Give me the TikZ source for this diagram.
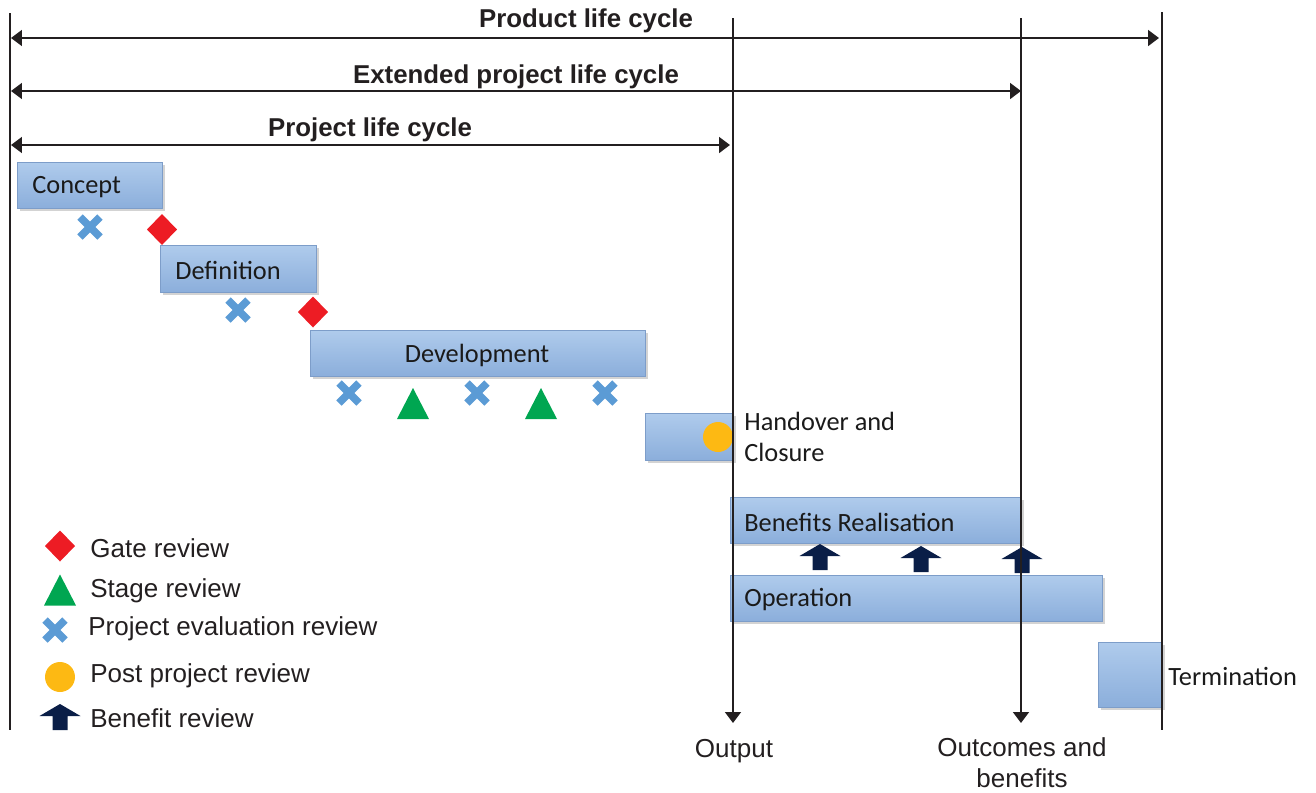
\documentclass[tikz,border=0pt]{standalone}
\usepackage{fontspec}
\setmainfont{Liberation Sans}
\newfontfamily\boxfont{Carlito}
\usetikzlibrary{arrows.meta,shadows}
\newlength\px \setlength\px{0.02cm}
\definecolor{boxtop}{HTML}{AFCBEC}
\definecolor{boxbot}{HTML}{8BAEDB}
\definecolor{boxline}{HTML}{7D9DC9}
\definecolor{gatec}{HTML}{ED1C24}
\definecolor{stagec}{HTML}{00A651}
\definecolor{evalc}{HTML}{5B9BD5}
\definecolor{postc}{HTML}{FDB913}
\definecolor{benefc}{HTML}{0A1E47}
\definecolor{txt}{HTML}{231F20}
\definecolor{btxt}{HTML}{1A1A1A}
\tikzset{
  stagebox/.style={draw=boxline, line width=0.4pt, top color=boxtop, bottom color=boxbot,
    anchor=north west, inner sep=0pt,
    drop shadow={shadow xshift=1.4pt, shadow yshift=-1.4pt, opacity=0.35}},
  boxtxt/.style={font=\boxfont\fontsize{15pt}{17.6pt}\selectfont, text=btxt, inner sep=0pt, yshift=-2*\px},
  lbl/.style={font=\fontsize{14.8pt}{17.6pt}\selectfont, text=txt, inner sep=0pt, yshift=-2*\px},
  ttl/.style={font=\bfseries\fontsize{14.7pt}{17pt}\selectfont, text=txt, inner sep=0pt, yshift=-3*\px},
  vline/.style={line width=0.9pt, draw=txt},
  span/.style={line width=1.1pt, draw=txt, {Triangle[length=0.22cm,width=0.32cm]}-{Triangle[length=0.22cm,width=0.32cm]}},
  downarr/.style={line width=0.9pt, draw=txt, -{Triangle[length=0.22cm,width=0.32cm]}},
  gatemark/.pic={\fill[gatec] (0,-15.5)--(15,0)--(0,15.5)--(-15,0)--cycle;},
  stagemark/.pic={\fill[stagec] (0,-15.5)--(16,15.5)--(-16,15.5)--cycle;},
  evalmark/.pic={\draw[evalc, line width=7.5*\px] (-10,-10)--(10,10) (-10,10)--(10,-10);},
  postmark/.pic={\fill[postc] (0,0) circle (15);},
  benmark/.pic={\fill[benefc] (0,-13)--(20.5,-1)--(7.5,-1)--(7.5,13)--(-7.5,13)--(-7.5,-1)--(-20.5,-1)--cycle;},
}
\begin{document}
\begin{tikzpicture}[x=0.02cm, y=-0.02cm]
\useasboundingbox (0,0) rectangle (1316,792);

% boxes
\node[stagebox, minimum width=145*\px, minimum height=46*\px] (concept) at (17,162) {};
\node[stagebox, minimum width=156*\px, minimum height=47*\px] (definition) at (160,245) {};
\node[stagebox, minimum width=335*\px, minimum height=46*\px] (development) at (310,330) {};
\node[stagebox, minimum width=88*\px, minimum height=47*\px] (handover) at (645,413) {};
\node[stagebox, minimum width=291*\px, minimum height=46*\px] (benefits) at (730,497) {};
\node[stagebox, minimum width=372*\px, minimum height=46*\px] (operation) at (730,575) {};
\node[stagebox, minimum width=64*\px, minimum height=65*\px] (termination) at (1098,642) {};

% box texts
\node[boxtxt, anchor=west] (concept-t) at (32,185) {Concept};
\node[boxtxt, anchor=west] (definition-t) at (175,268) {Definition};
\node[boxtxt] (development-t) at (477,353) {Development};
\node[boxtxt, anchor=west, align=left] (handover-t) at (744,434.5) {Handover and\\Closure};
\node[boxtxt, anchor=west] (benefits-t) at (744,520) {Benefits Realisation};
\node[boxtxt, anchor=west] (operation-t) at (744,598) {Operation};
\node[boxtxt, anchor=west] (termination-t) at (1168,674) {Termination};

% review markers
\pic at (90,227) {evalmark};
\pic at (162,229.5) {gatemark};
\pic at (238,310) {evalmark};
\pic at (313,312) {gatemark};
\pic at (349,393) {evalmark};
\pic at (413,403.5) {stagemark};
\pic at (477,393) {evalmark};
\pic at (541,403.5) {stagemark};
\pic at (605,393) {evalmark};
\pic at (718,437) {postmark};
\pic at (820,557) {benmark};
\pic at (921,559) {benmark};
\pic at (1022,560) {benmark};

% vertical lines
\coordinate (left-top) at (10,13);
\coordinate (left-bot) at (10,730);
\coordinate (out-top) at (733,18);
\coordinate (out-bot) at (733,723);
\coordinate (oc-top) at (1021,18);
\coordinate (oc-bot) at (1021,723);
\coordinate (right-top) at (1162,12);
\coordinate (right-bot) at (1162,730);
\draw[vline] (left-top) -- (left-bot);
\draw[vline] (right-top) -- (right-bot);
\draw[downarr] (out-top) -- (out-bot);
\draw[downarr] (oc-top) -- (oc-bot);

% spans
\coordinate (plc-l) at (11,38);
\coordinate (plc-r) at (1159,38);
\coordinate (eplc-l) at (11,91);
\coordinate (eplc-r) at (1021,91);
\coordinate (pjlc-l) at (11,145);
\coordinate (pjlc-r) at (730,145);
\draw[span] (plc-l) -- (plc-r);
\draw[span] (eplc-l) -- (eplc-r);
\draw[span] (pjlc-l) -- (pjlc-r);
\node[ttl] (plc-t) at (586,18) {Product life cycle};
\node[ttl] (eplc-t) at (516,74) {Extended project life cycle};
\node[ttl] (pjlc-t) at (370,127) {Project life cycle};

% bottom labels
\node[lbl] (output-t) at (734,749) {Output};
\node[lbl, align=center] (outcomes-t) at (1022,761) {Outcomes and\\benefits};

% legend
\pic at (60,546) {gatemark};
\node[lbl, anchor=west] (leg-gate) at (90,546) {Gate review};
\pic at (60,590) {stagemark};
\node[lbl, anchor=west] (leg-stage) at (90,589) {Stage review};
\pic at (55,630) {evalmark};
\node[lbl, anchor=west] (leg-eval) at (88,627) {Project evaluation review};
\pic at (60,677) {postmark};
\node[lbl, anchor=west] (leg-post) at (90,674) {Post project review};
\pic at (60,717) {benmark};
\node[lbl, anchor=west] (leg-ben) at (90,716) {Benefit review};
\end{tikzpicture}
\end{document}
